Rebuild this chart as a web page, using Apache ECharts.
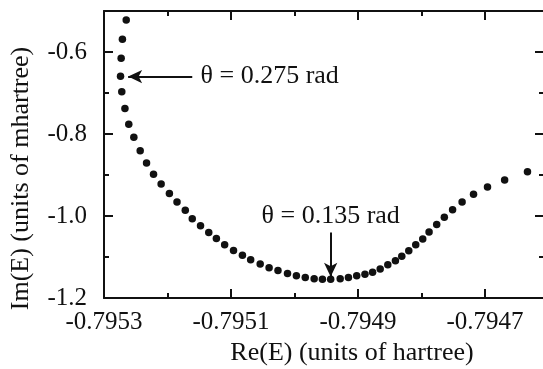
<!DOCTYPE html>
<html>
<head>
<meta charset="utf-8">
<script src="https://cdn.jsdelivr.net/npm/echarts@6/dist/echarts.min.js"></script>
<style>
  html, body { margin: 0; padding: 0; background: #fff; }
  #chart { width: 543px; height: 369px; }
</style>
</head>
<body>
<div id="chart"></div>
<script>
// Re(E) in hartree, Im(E) in mhartree
const reE = [-0.795265, -0.795271, -0.795273, -0.795274, -0.795272, -0.795267, -0.795261, -0.795253, -0.795243, -0.795233,
  -0.795222, -0.795210, -0.795197, -0.795185, -0.795172, -0.795161, -0.795148, -0.795135, -0.795123, -0.795110,
  -0.795096, -0.795082, -0.795069, -0.795054, -0.795040, -0.795026, -0.795011, -0.794997, -0.794983, -0.794969,
  -0.794956, -0.794943, -0.794928, -0.794915, -0.794902, -0.794889, -0.794877, -0.794865, -0.794853, -0.794841,
  -0.794831, -0.794820, -0.794809, -0.794798, -0.794788, -0.794776, -0.794764, -0.794751, -0.794736, -0.794718,
  -0.794696, -0.794669, -0.794633];
const imE = [-0.522, -0.569, -0.615, -0.659, -0.697, -0.738, -0.776, -0.808, -0.841, -0.871,
  -0.898, -0.922, -0.945, -0.966, -0.986, -1.007, -1.024, -1.040, -1.055, -1.070,
  -1.084, -1.096, -1.107, -1.117, -1.126, -1.133, -1.140, -1.146, -1.150, -1.153,
  -1.154, -1.154, -1.153, -1.150, -1.146, -1.142, -1.137, -1.129, -1.119, -1.109,
  -1.098, -1.085, -1.070, -1.056, -1.039, -1.021, -1.003, -0.985, -0.966, -0.947,
  -0.929, -0.912, -0.892];

// axis ranges / ticks
const xRange = [-0.7953, -0.794607];
const yRange = [-1.2, -0.5];
const xTickLabels = ['-0.7953', '-0.7951', '-0.7949', '-0.7947'];
const yTickLabels = ['-0.6', '-0.8', '-1.0', '-1.2'];

// annotations: text, text anchor, arrow start, arrow end
const notes = [
  { text: 'θ = 0.275 rad', at: [-0.795148, -0.66], align: 'left', from: [-0.795161, -0.66], to: [-0.795262, -0.66] },
  { text: 'θ = 0.135 rad', at: [-0.794943, -1.0], align: 'center', from: [-0.794943, -1.04], to: [-0.794943, -1.148] }
];

const FONT = "'Liberation Serif', 'Times New Roman', serif";
const INK = '#111';

const chart = echarts.init(document.getElementById('chart'));

function xAxisDef(pos, major, withLabels) {
  return {
    type: 'value', position: pos, min: xRange[0], max: xRange[1],
    interval: major ? 0.0002 : 0.0001,
    axisLine: { show: major, onZero: false, lineStyle: { color: INK, width: 2 } },
    axisTick: { show: true, inside: true, length: major ? 9 : 5, lineStyle: { color: INK, width: 2 } },
    axisLabel: {
      show: withLabels, margin: 12, fontFamily: FONT, fontSize: 25, color: INK,
      showMaxLabel: false,
      formatter: v => { const s = v.toFixed(4); return xTickLabels.includes(s) ? s : ''; }
    },
    splitLine: { show: false },
    name: withLabels ? 'Re(E) (units of hartree)' : '',
    nameLocation: 'middle', nameGap: 39,
    nameTextStyle: { fontFamily: FONT, fontSize: 26, color: INK, padding: [0, 0, 0, 56] }
  };
}

function yAxisDef(pos, major, withLabels) {
  return {
    type: 'value', position: pos, min: yRange[0], max: yRange[1],
    interval: major ? 0.2 : 0.1,
    axisLine: { show: major, onZero: false, lineStyle: { color: INK, width: 2 } },
    axisTick: { show: true, inside: true, length: major ? 9 : 5, lineStyle: { color: INK, width: 2 } },
    axisLabel: {
      show: withLabels, margin: 17, fontFamily: FONT, fontSize: 25, color: INK,
      showMaxLabel: false,
      formatter: v => { const s = v.toFixed(1); return yTickLabels.includes(s) ? s : ''; }
    },
    splitLine: { show: false },
    name: withLabels ? 'Im(E) (units of mhartree)' : '',
    nameLocation: 'middle', nameGap: 70,
    nameTextStyle: { fontFamily: FONT, fontSize: 26, color: INK, padding: [0, 48, 0, 0] }
  };
}

const option = {
  backgroundColor: '#fff',
  animation: false,
  grid: { left: 104, top: 11, right: -1, bottom: 71, containLabel: false, outerBoundsMode: 'none' },
  xAxis: [
    xAxisDef('bottom', true, true),
    xAxisDef('bottom', false, false),
    xAxisDef('top', true, false),
    xAxisDef('top', false, false)
  ],
  yAxis: [
    yAxisDef('left', true, true),
    yAxisDef('left', false, false),
    yAxisDef('right', true, false),
    yAxisDef('right', false, false)
  ],
  series: [
    {
      type: 'scatter',
      xAxisIndex: 0, yAxisIndex: 0,
      symbol: 'circle', symbolSize: 7.5,
      itemStyle: { color: INK, opacity: 1 },
      data: reE.map((x, i) => [x, imE[i]]),
      markLine: {
        silent: true,
        symbol: ['none', 'arrow'],
        symbolSize: [10, 14],
        label: { show: false },
        lineStyle: { color: INK, width: 2, type: 'solid', opacity: 1 },
        data: notes.map(n => [{ coord: n.from }, { coord: n.to }])
      }
    }
  ]
};
chart.setOption(option);

// annotation texts placed through the axes
chart.setOption({
  graphic: notes.map(n => {
    const p = chart.convertToPixel({ xAxisIndex: 0, yAxisIndex: 0 }, n.at);
    return {
      type: 'text', x: p[0], y: p[1], silent: true,
      style: { text: n.text, font: '26px ' + FONT, fill: INK, align: n.align, verticalAlign: 'middle' }
    };
  })
});
</script>
</body>
</html>
